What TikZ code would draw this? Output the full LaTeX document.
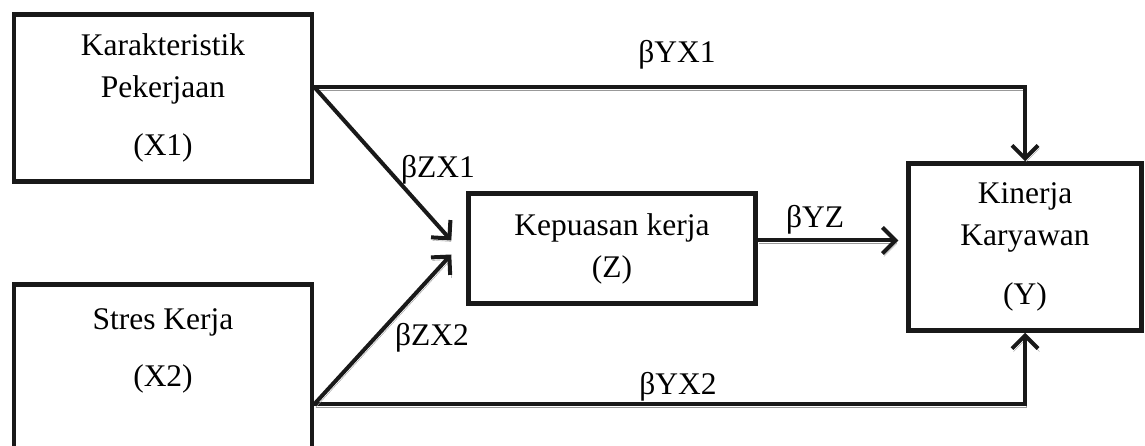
\documentclass[tikz,border=0pt]{standalone}
\usepackage{fontspec}
\setmainfont{Liberation Serif}
\usetikzlibrary{arrows.meta, positioning, calc}

\begin{document}
\begin{tikzpicture}[
        x=1pt, y=-1pt,
        box/.style={draw=black!90, line width=4.5pt, align=center, font=\fontsize{31.5}{42}\selectfont},
        txt/.style={align=center, font=\fontsize{31.5}{42}\selectfont},
        coef/.style={font=\fontsize{31.5}{38}\selectfont, inner sep=0pt, anchor=base},
        link/.style={-{Straight Barb[length=13pt, width=26pt]}, draw=black!90, line width=4pt,
            preaction={draw=black!40, transform canvas={shift={(1.5pt,-3pt)}}}}
    ]
        \useasboundingbox (0,0) rectangle (1145,446);

        % Independent variables
        \node[box, minimum width=298, minimum height=167] (x1) at (163, 98) {Karakteristik\\Pekerjaan\\[16pt](X1)};
        \node[box, minimum width=298, minimum height=200, anchor=north] (x2) at (163, 282) {};
        \node[txt] (x2lbl) at (163, 351) {Stres Kerja\\[15pt](X2)};

        % Mediator
        \node[box, minimum width=287, minimum height=110] (z) at (612, 248.5) {Kepuasan kerja\\(Z)};

        % Dependent variable
        \node[box, minimum width=233, minimum height=167] (y) at (1025, 247) {Kinerja\\Karyawan\\[17pt](Y)};

        % Anchor points
        \coordinate (x1out) at ([yshift=11pt]x1.east);
        \coordinate (x2out) at ([yshift=-20pt]x2.east);
        \coordinate (zout) at ([yshift=8pt]z.east);

        % Arrows
        \draw[link] (x1out) -| (y.north);
        \draw[link] (x2out) -| (y.south);
        \draw[link] (x1out) -- ([xshift=-15pt, yshift=8pt]z.west);
        \draw[link] (x2out) -- ([xshift=-15pt, yshift=-6pt]z.west);
        \draw[link, shorten >=8pt] (zout) -- (zout -| y.west);

        % Path coefficients
        \node[coef] (byx1) at (677, 63) {βYX1};
        \node[coef] (bzx1) at (438, 178) {βZX1};
        \node[coef] (byz) at (815, 228) {βYZ};
        \node[coef] (bzx2) at (432, 345) {βZX2};
        \node[coef] (byx2) at (678, 394) {βYX2};
    \end{tikzpicture}
\end{document}
